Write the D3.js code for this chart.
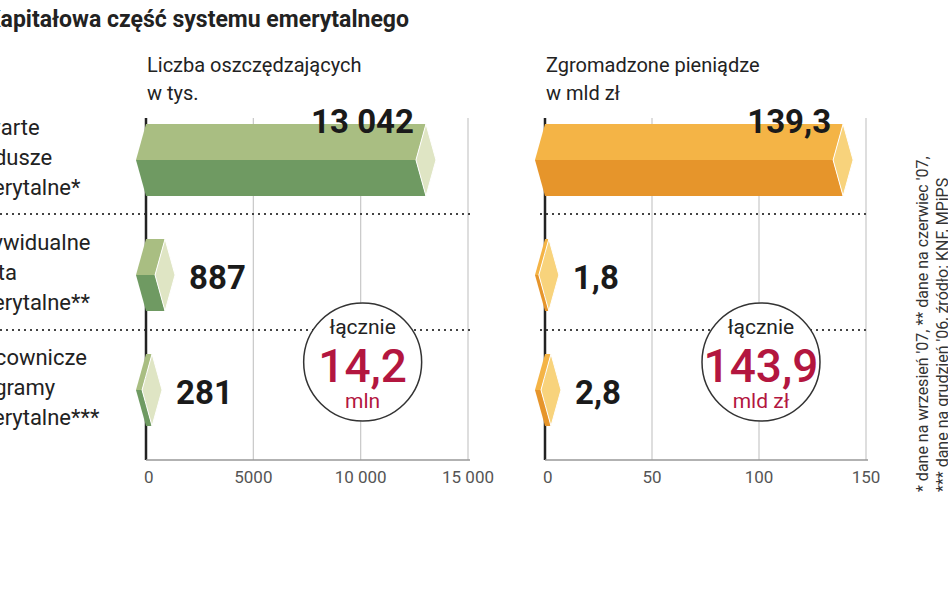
<!DOCTYPE html>
<html><head><meta charset="utf-8">
<script src="https://cdn.jsdelivr.net/npm/d3@7"></script>
<style>body{margin:0;background:#fff}</style>
</head><body>
<script>
// data
var categories = [["Otwarte", "fundusze", "emerytalne*"], ["Indywidualne", "konta", "emerytalne**"], ["Pracownicze", "programy", "emerytalne***"]];
var people = [13042, 887, 281];
var peopleLabels = ["13 042", "887", "281"];
var money = [139.3, 1.8, 2.8];
var moneyLabels = ["139,3", "1,8", "2,8"];
var peopleTicks = [0, 5000, 10000, 15000];
var peopleTickLabels = ["0", "5000", "10 000", "15 000"];
var moneyTicks = [0, 50, 100, 150];

var w = 948, h = 593;
var svg = d3.select('body').append('svg').attr('width', w).attr('height', h)
    .style('font-family', 'Roboto, sans-serif');

var rowCenters = [160, 275, 390];
var barH = 72, d = 10;

svg.append('text').attr('x', -14).attr('y', 27).attr('font-size', 23).attr('font-weight', 'bold')
    .attr('fill', '#222').text('Kapitałowa część systemu emerytalnego');

// left labels (cropped by the page edge, as in the reference)
categories.forEach(function(c, i) {
    c.forEach(function(t, j) {
        svg.append('text').attr('x', -38).attr('y', rowCenters[i] - 25 + j * 30)
            .attr('font-size', 22).attr('fill', '#222').text(t);
    });
});

function panel(x0, x1, values, labels, ticks, tickLabels, cols, title, total, unit) {
    var x = d3.scaleLinear().domain([0, ticks[ticks.length - 1]]).range([x0, x1]);
    var g = svg.append('g');
    g.append('text').attr('x', x0 + 1).attr('y', 72).attr('font-size', 20).attr('fill', '#222').text(title[0]);
    g.append('text').attr('x', x0 + 1).attr('y', 100).attr('font-size', 20).attr('fill', '#222').text(title[1]);
    g.selectAll('.grid').data(ticks.slice(1)).enter().append('line')
        .attr('x1', x).attr('x2', x).attr('y1', 118).attr('y2', 460)
        .attr('stroke', '#c8c8c8').attr('stroke-width', 1.2);
    g.selectAll('.sep').data([214, 330]).enter().append('line')
        .attr('x1', x0 - 150 < 0 ? 0 : x0 - 5).attr('x2', x1 + 3).attr('y1', function(v) { return v; }).attr('y2', function(v) { return v; })
        .attr('stroke', '#444').attr('stroke-width', 2).attr('stroke-dasharray', '2,4');
    g.append('line').attr('x1', x0).attr('x2', x0).attr('y1', 118).attr('y2', 460).attr('stroke', '#222').attr('stroke-width', 2.5);
    g.append('line').attr('x1', x0).attr('x2', x1 + 2).attr('y1', 460).attr('y2', 460).attr('stroke', '#999').attr('stroke-width', 1.5);
    g.selectAll('.tl').data(ticks).enter().append('text')
        .attr('x', function(v, i) { return i === 0 ? x(v) - 2 : x(v); })
        .attr('y', 483).attr('font-size', 17).attr('fill', '#555')
        .attr('text-anchor', function(v, i) { return i === 0 ? 'start' : 'middle'; })
        .text(function(v, i) { return tickLabels ? tickLabels[i] : v; });
    values.forEach(function(v, i) {
        var cy = rowCenters[i], top = cy - barH / 2, bot = cy + barH / 2;
        var a = x(0), b = Math.max(x(v), a + 1);
        g.append('polygon').attr('points', [[a - d, cy], [a, top], [b, top], [b - d, cy]].join(' ')).attr('fill', cols[0]);
        g.append('polygon').attr('points', [[a - d, cy], [b - d, cy], [b, bot], [a, bot]].join(' ')).attr('fill', cols[1]);
        g.append('polygon').attr('points', [[b, top], [b + d, cy], [b, bot], [b - d, cy]].join(' '))
            .attr('fill', cols[2]).attr('stroke', '#fff').attr('stroke-width', 1);
        var big = i === 0;
        g.append('text').attr('x', big ? b - 12 : b + d + 14).attr('y', big ? 133 : cy + 14)
            .attr('text-anchor', big ? 'end' : 'start').attr('font-size', 33).attr('font-weight', 'bold')
            .attr('fill', '#1a1a1a').text(labels[i]);
    });
    var cx = x(ticks[2]) + 2, ccy = 362;
    g.append('circle').attr('cx', cx).attr('cy', ccy).attr('r', 59).attr('fill', '#fff')
        .attr('stroke', '#333').attr('stroke-width', 1.5);
    g.append('text').attr('x', cx).attr('y', ccy - 28).attr('text-anchor', 'middle').attr('font-size', 21).attr('fill', '#222').text('łącznie');
    g.append('text').attr('x', cx).attr('y', ccy + 20).attr('text-anchor', 'middle').attr('font-size', 46).attr('font-weight', 500).attr('fill', '#b3163f').text(total);
    g.append('text').attr('x', cx).attr('y', ccy + 46).attr('text-anchor', 'middle').attr('font-size', 21).attr('fill', '#b3163f').text(unit);
}

panel(146, 468, people, peopleLabels, peopleTicks, peopleTickLabels, ['#a9be82', '#6f9a62', '#dfe5c4'],
    ['Liczba oszczędzających', 'w tys.'], '14,2', 'mln');
panel(545, 866, money, moneyLabels, moneyTicks, null, ['#f4b446', '#e6952b', '#f8d37c'],
    ['Zgromadzone pieniądze', 'w mld zł'], '143,9', 'mld zł');

svg.append('text').attr('transform', 'translate(928,492) rotate(-90)').attr('font-size', 16).attr('fill', '#333')
    .text("* dane na wrzesień '07, ** dane na czerwiec '07,");
svg.append('text').attr('transform', 'translate(948,492) rotate(-90)').attr('font-size', 16).attr('fill', '#333')
    .text("*** dane na grudzień '06, źródło: KNF, MPiPS");
</script>
</body></html>
